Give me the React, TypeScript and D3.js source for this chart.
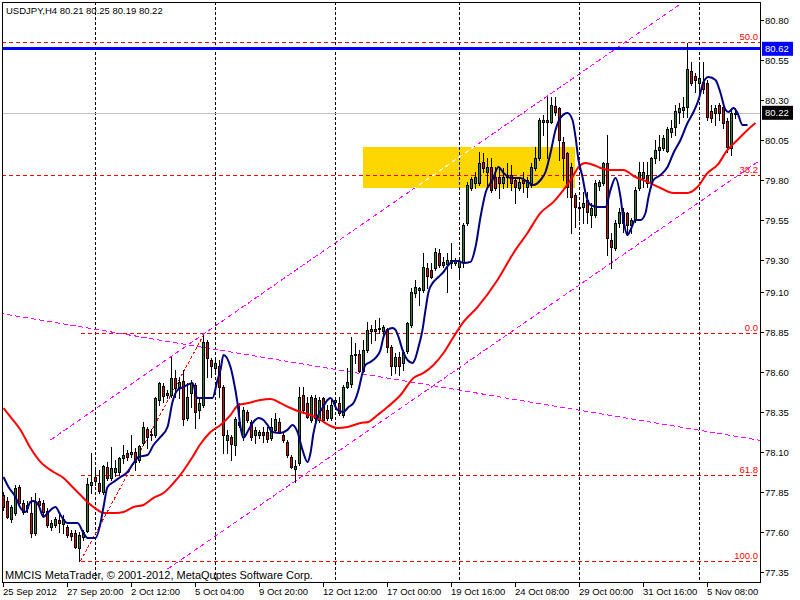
import React from 'react';
import * as d3 from 'd3';

const W = 800;
const H = 600;
const PL = 2, PR = 760, PT = 2, PB = 582;

// ---- Candles (USDJPY H4) ----
const opens = [
77.831,77.794,77.681,77.719,77.881,77.781,77.750,77.719,77.594,77.794,
77.781,77.731,77.631,77.644,77.675,77.650,77.631,77.594,77.594,77.500,
77.569,77.606,77.894,77.944,77.906,77.850,78.006,77.938,77.975,77.975,
78.063,78.094,78.088,78.100,78.050,78.156,78.244,78.206,78.206,78.425,
78.513,78.456,78.456,78.563,78.506,78.544,78.313,78.469,78.519,78.363,
78.394,78.788,78.675,78.625,78.638,78.506,78.175,78.194,78.144,78.288,
78.194,78.350,78.288,78.206,78.206,78.225,78.225,78.188,78.238,78.288,
78.206,78.163,78.069,77.994,78.031,78.456,78.406,78.300,78.438,78.300,
78.438,78.363,78.313,78.413,78.406,78.331,78.506,78.525,78.706,78.713,
78.606,78.738,78.856,78.869,78.869,78.856,78.869,78.756,78.638,78.694,
78.656,78.731,78.894,79.094,79.113,79.113,79.250,79.238,79.250,79.344,
79.269,79.275,79.281,79.281,79.256,79.288,79.531,79.750,79.781,79.781,
79.913,79.850,79.881,79.819,79.819,79.781,79.819,79.831,79.800,79.750,
79.800,79.756,79.769,79.875,79.938,80.163,80.163,80.163,80.263,80.250,
80.038,79.969,79.881,79.706,79.625,79.631,79.675,79.581,79.581,79.763,
79.781,79.906,79.425,79.375,79.531,79.600,79.594,79.519,79.550,79.750,
79.813,79.831,79.781,79.938,79.988,80.000,79.981,80.100,80.131,80.225,
80.238,80.256,80.481,80.450,80.406,80.413,80.406,80.231,80.219,80.269,
80.256,80.169,80.000,80.21
];
const highs = [
77.850,77.819,77.769,77.894,77.894,77.800,77.794,77.819,77.844,77.813,
77.800,77.750,77.675,77.694,77.706,77.706,77.644,77.613,77.613,77.600,
77.613,77.938,78.094,77.988,77.988,78.019,78.038,78.131,78.050,78.069,
78.144,78.113,78.206,78.125,78.144,78.288,78.256,78.244,78.444,78.538,
78.531,78.488,78.694,78.613,78.569,78.613,78.531,78.550,78.531,78.444,
78.831,78.800,78.688,78.675,78.675,78.519,78.238,78.206,78.319,78.406,
78.381,78.363,78.300,78.256,78.238,78.256,78.256,78.313,78.344,78.313,
78.225,78.175,78.081,78.050,78.506,78.506,78.444,78.456,78.456,78.444,
78.444,78.394,78.425,78.444,78.444,78.519,78.625,78.819,78.781,78.738,
78.800,78.913,78.894,78.925,78.938,78.894,78.875,78.769,78.719,78.725,
78.738,78.913,79.125,79.175,79.131,79.344,79.281,79.281,79.375,79.369,
79.319,79.344,79.406,79.313,79.313,79.531,79.788,79.819,79.850,79.975,
79.969,79.938,79.938,79.881,79.875,79.875,79.906,79.894,79.819,79.819,
79.850,79.819,79.906,80.006,80.188,80.206,80.319,80.319,80.319,80.256,
80.069,79.975,79.906,79.719,79.656,79.725,79.725,79.656,79.800,79.800,
79.913,80.081,79.469,79.550,79.625,79.625,79.600,79.563,79.756,79.913,
79.913,79.913,79.944,80.050,80.081,80.081,80.131,80.175,80.269,80.281,
80.319,80.656,80.538,80.469,80.519,80.538,80.425,80.269,80.269,80.281,
80.269,80.188,80.238,80.25
];
const lows = [
77.738,77.688,77.663,77.706,77.769,77.713,77.725,77.569,77.581,77.756,
77.706,77.631,77.613,77.631,77.600,77.594,77.569,77.550,77.500,77.419,
77.550,77.600,77.844,77.894,77.844,77.838,77.925,77.925,77.950,77.956,
78.031,78.050,78.069,77.988,78.038,78.144,78.125,78.175,78.194,78.394,
78.413,78.438,78.444,78.444,78.438,78.269,78.300,78.381,78.250,78.313,
78.381,78.569,78.569,78.600,78.444,78.094,78.094,78.050,78.081,78.256,
78.175,78.288,78.175,78.156,78.188,78.163,78.163,78.175,78.225,78.219,
78.163,78.069,78.000,77.913,78.019,78.344,78.313,78.288,78.288,78.288,
78.288,78.300,78.300,78.381,78.331,78.319,78.500,78.506,78.656,78.600,
78.600,78.725,78.781,78.800,78.844,78.831,78.725,78.581,78.594,78.581,
78.613,78.719,78.881,79.069,79.019,79.100,79.125,79.188,79.238,79.256,
79.256,79.100,79.250,79.269,79.188,79.256,79.519,79.738,79.750,79.769,
79.850,79.750,79.725,79.738,79.688,79.750,79.756,79.738,79.656,79.738,
79.725,79.694,79.756,79.863,79.925,80.081,79.938,80.156,80.206,79.925,
79.800,79.694,79.469,79.506,79.550,79.531,79.531,79.506,79.569,79.738,
79.769,79.331,79.250,79.363,79.506,79.475,79.456,79.469,79.538,79.738,
79.756,79.756,79.756,79.906,79.925,79.988,79.975,80.069,80.081,80.156,
80.194,80.194,80.394,80.350,80.344,80.344,80.175,80.163,80.144,80.175,
80.125,79.975,79.956,80.19
];
const closes = [
77.756,77.694,77.756,77.875,77.781,77.725,77.769,77.594,77.788,77.769,
77.725,77.644,77.656,77.681,77.656,77.681,77.581,77.575,77.506,77.581,
77.600,77.900,77.913,77.919,77.856,78.013,77.938,78.000,78.000,78.063,
78.081,78.069,78.100,78.038,78.138,78.256,78.194,78.213,78.438,78.531,
78.450,78.469,78.563,78.500,78.538,78.306,78.444,78.531,78.350,78.406,
78.788,78.688,78.638,78.656,78.506,78.206,78.206,78.150,78.306,78.269,
78.363,78.300,78.194,78.238,78.225,78.206,78.181,78.256,78.306,78.225,
78.175,78.081,78.006,78.013,78.444,78.363,78.319,78.444,78.313,78.425,
78.300,78.313,78.394,78.425,78.344,78.506,78.538,78.706,78.713,78.606,
78.738,78.863,78.869,78.856,78.875,78.881,78.756,78.638,78.694,78.638,
78.725,78.906,79.100,79.131,79.125,79.256,79.200,79.194,79.350,79.269,
79.288,79.300,79.300,79.300,79.294,79.519,79.769,79.806,79.819,79.906,
79.875,79.881,79.738,79.750,79.781,79.819,79.831,79.781,79.756,79.788,
79.781,79.800,79.881,79.938,80.175,80.175,80.175,80.269,80.225,80.050,
79.938,79.756,79.694,79.631,79.631,79.656,79.600,79.625,79.781,79.788,
79.906,79.438,79.381,79.531,79.600,79.531,79.519,79.550,79.738,79.850,
79.850,79.781,79.938,79.988,80.006,80.063,80.119,80.125,80.231,80.250,
80.256,80.494,80.406,80.425,80.438,80.369,80.194,80.188,80.250,80.219,
80.156,80.006,80.219,80.22
];

// ---- Moving averages (bar position, price) ----
const blueMaBars = [0,1.25,3,4.25,5.5,6.75,7.5,8.75,10,11.25,13,14.25,16,18.5,20,21,23,24.25,25,26,27.5,29.25,31,32.5,33.75,36,37.5,39.25,41,42.25,43.5,45,47.25,48.5,50,52.25,53.5,54.25,55,56.75,57.5,58.5,59.25,60,61.25,62.5,63.75,65,66,67.25,69.25,71,72.25,73.5,74.75,76,76.75,77.5,78.5,79.75,81,81.75,83.5,85,86.25,87.5,88.75,89.75,90.5,91.75,93,94.25,95,96,97.25,98,98.75,99.75,101,102.25,103,103.75,104.75,105.5,106.25,107.5,108.75,110,111.25,112.5,113.75,115,116.75,118,119.25,120.5,122.25,123.75,125,126.75,129.25,131,132.5,134.25,135.5,136.75,138,139.25,141,142.25,143,143.75,144.75,145.5,146.75,148.5,150.5,151.75,153,154.25,155,156,156.75,158,159.25,160.5,161.25,162.5,164.25,166,167.5,169.25,171,172.5,173.75,175,176.25,178,179.25,180.5,181.25,182.5,183.5,184.75,186];
const blueMaPrices = [77.944,77.881,77.819,77.750,77.725,77.788,77.794,77.769,77.694,77.725,77.756,77.706,77.656,77.656,77.594,77.563,77.563,77.656,77.756,77.881,77.913,77.944,77.975,78.031,78.069,78.081,78.144,78.194,78.256,78.413,78.488,78.506,78.531,78.438,78.438,78.438,78.550,78.613,78.706,78.631,78.550,78.406,78.256,78.188,78.238,78.288,78.313,78.300,78.269,78.225,78.219,78.238,78.269,78.225,78.113,78.038,78.094,78.219,78.319,78.375,78.425,78.438,78.363,78.350,78.381,78.406,78.488,78.594,78.644,78.663,78.688,78.738,78.819,78.863,78.875,78.863,78.819,78.738,78.675,78.656,78.688,78.756,78.863,78.988,79.100,79.163,79.194,79.225,79.269,79.294,79.294,79.281,79.288,79.381,79.569,79.719,79.800,79.881,79.844,79.813,79.813,79.788,79.769,79.800,79.850,79.969,80.113,80.188,80.219,80.175,80.069,79.925,79.819,79.719,79.644,79.631,79.631,79.738,79.813,79.694,79.550,79.456,79.488,79.550,79.550,79.594,79.694,79.800,79.831,79.881,79.969,80.050,80.156,80.225,80.300,80.413,80.444,80.425,80.344,80.238,80.225,80.250,80.219,80.144,80.144];
const redMaBars = [0,1.75,4.25,6.75,9.25,12.5,15,17.25,19.25,21.25,23.5,25,28,30,32.5,35,37.5,40,42.5,44.75,47.25,49.25,51.75,54.25,56.75,58.75,61.25,64.25,66.75,69.25,71.75,74.25,76.75,79.25,81.25,83.5,86,89.25,91.25,93.5,96,99.25,102.5,105,107.5,110,112.5,115,118.5,123.5,127.5,131,134.25,137.5,140,142.25,143.75,145.5,147.5,149.25,151.75,155,157.5,161,164.25,167.5,171,173.5,176,178.5,181,183.5,186,188];
const redMaPrices = [78.375,78.319,78.238,78.125,78.038,77.975,77.938,77.881,77.831,77.781,77.738,77.719,77.719,77.725,77.756,77.769,77.813,77.844,77.906,77.975,78.069,78.150,78.225,78.269,78.331,78.394,78.406,78.425,78.431,78.406,78.375,78.350,78.331,78.300,78.269,78.250,78.256,78.281,78.288,78.331,78.381,78.456,78.563,78.594,78.644,78.719,78.819,78.913,79.006,79.175,79.344,79.469,79.594,79.663,79.738,79.819,79.881,79.906,79.894,79.875,79.863,79.863,79.825,79.788,79.750,79.719,79.719,79.756,79.844,79.894,79.988,80.050,80.113,80.156];

// ---- Axis ----
const yTickValues = [80.80, 80.55, 80.30, 80.05, 79.80, 79.55, 79.30, 79.10, 78.85, 78.60, 78.35, 78.10, 77.85, 77.60, 77.35];
const xLabelBars = [0, 16, 32, 48, 64, 80, 96, 112, 128, 144, 160, 176];
const xLabelTexts = ["25 Sep 2012", "27 Sep 20:00", "2 Oct 12:00", "5 Oct 04:00", "9 Oct 20:00", "12 Oct 12:00", "17 Oct 00:00", "19 Oct 16:00", "24 Oct 08:00", "29 Oct 00:00", "31 Oct 16:00", "5 Nov 08:00"];
const gridBars = [23, 53, 83, 114, 144, 174];

// ---- Objects ----
const fibLabels = ["50.0", "38.2", "0.0", "61.8", "100.0"];
const fibPrices = [80.6625, 79.831, 78.844, 77.958, 77.419];
const fibStartBars = [-1, -1, 19.25, 19.25, 19.25];
const fibTrendBars = [19.25, 50];
const fibTrendPrices = [77.419, 78.831];
const upperChanBars = [11.75, 176];
const upperChanPrices = [78.175, 81.017];
const lowerChanBars = [41, 189.5];
const lowerChanPrices = [77.368, 79.93];
const descBars = [-1, 189.5];
const descPrices = [78.967, 78.171];
const zoneBars = [89.875, 142.875];
const zonePrices = [80.006, 79.75];
const resistancePrice = 80.62;
const lastPrice = 80.22;
const titleText = "USDJPY,H4  80.21 80.25 80.19 80.22";
const footerText = "MMCIS MetaTrader, \u00A9 2001-2012, MetaQuptes Software Corp.";

const FONT = "'Liberation Sans', Arial, sans-serif";
const GREEN = "#1f8a1f";
const RED = "#e60000";

export default function App() {
  const x = d3.scaleLinear().domain([0, 1]).range([3.5, 7.5]);
  const y = d3.scaleLinear().domain([77.35, 80.80]).range([572, 20]);
  const crisp = (v: number) => Math.round(v) + 0.5;

  const blueLine = d3.line<number>()
    .x((_, i) => x(blueMaBars[i]))
    .y((d) => y(d))
    .curve(d3.curveMonotoneX)(blueMaPrices) || '';
  const redLine = d3.line<number>()
    .x((_, i) => x(redMaBars[i]))
    .y((d) => y(d))
    .curve(d3.curveMonotoneX)(redMaPrices) || '';

  const seg = (bars: number[], prices: number[]) => ({
    x1: x(bars[0]), y1: y(prices[0]), x2: x(bars[1]), y2: y(prices[1]),
  });

  const zx0 = x(zoneBars[0]), zx1 = x(zoneBars[1]);
  const zy0 = y(zonePrices[0]), zy1 = y(zonePrices[1]);

  return (
    <svg width={W} height={H} style={{ position: 'absolute', left: 0, top: 0, display: 'block' }}
      fontFamily={FONT}>
      <defs>
        <clipPath id="plot">
          <rect x={PL + 1} y={PT + 1} width={PR - PL - 1} height={PB - PT - 1} />
        </clipPath>
        <clipPath id="zone">
          <rect x={zx0} y={zy0} width={zx1 - zx0} height={zy1 - zy0} />
        </clipPath>
      </defs>
      <rect x={0} y={0} width={W} height={H} fill="#fff" />

      <g clipPath="url(#plot)">
        {/* yellow zone */}
        <rect x={zx0} y={zy0} width={zx1 - zx0} height={zy1 - zy0} fill="#ffd700" shapeRendering="crispEdges" />

        {/* vertical grid */}
        {gridBars.map((b, i) => (
          <line key={'g' + i} x1={x(b)} x2={x(b)} y1={PT} y2={PB} stroke="#000" strokeDasharray="3,2" shapeRendering="crispEdges" />
        ))}
        <g clipPath="url(#zone)">
          {gridBars.map((b, i) => (
            <line key={'gz' + i} x1={x(b)} x2={x(b)} y1={PT} y2={PB} stroke="#0000d0" strokeDasharray="3,2" shapeRendering="crispEdges" />
          ))}
        </g>

        {/* last price line */}
        <line x1={PL} x2={PR} y1={crisp(y(lastPrice))} y2={crisp(y(lastPrice))} stroke="#c0c0c0" shapeRendering="crispEdges" />

        {/* fibo levels */}
        {fibPrices.map((p, i) => (
          <g key={'f' + i}>
            <line x1={Math.max(PL, x(fibStartBars[i]))} x2={PR} y1={crisp(y(p))} y2={crisp(y(p))}
              stroke="#ff0000" strokeDasharray="4,3" shapeRendering="crispEdges" />
            <text x={758} y={crisp(y(p)) - 2.5} textAnchor="end" fontSize={9.5} fill="#ff0000">{fibLabels[i]}</text>
          </g>
        ))}
        <line {...seg(fibTrendBars, fibTrendPrices)} stroke="#ff0000" strokeDasharray="3,2" shapeRendering="crispEdges" />

        {/* channel lines */}
        <line {...seg(upperChanBars, upperChanPrices)} stroke="#ff00ff" strokeDasharray="5,3" shapeRendering="crispEdges" />
        <g clipPath="url(#zone)">
          <line {...seg(upperChanBars, upperChanPrices)} stroke="#ffffff" strokeDasharray="5,3" shapeRendering="crispEdges" />
        </g>
        <line {...seg(lowerChanBars, lowerChanPrices)} stroke="#ff00ff" strokeDasharray="5,3" shapeRendering="crispEdges" />
        <line {...seg(descBars, descPrices)} stroke="#ff00ff" strokeDasharray="5,3" shapeRendering="crispEdges" />

        {/* resistance */}
        <line x1={PL} x2={PR} y1={y(resistancePrice)} y2={y(resistancePrice)} stroke="#0000ff" strokeWidth={3} shapeRendering="crispEdges" />

        {/* candles */}
        {opens.map((o, i) => {
          const c = closes[i];
          const cx = x(i);
          const up = c >= o;
          const top = crisp(y(Math.max(o, c)));
          const bot = crisp(y(Math.min(o, c)));
          return (
            <g key={'c' + i}>
              <line x1={cx} x2={cx} y1={Math.round(y(highs[i]))} y2={Math.round(y(lows[i])) + 1} stroke="#000" />
              <rect x={cx - 1} y={top} width={2} height={Math.max(bot - top, 0)}
                fill={up ? GREEN : RED} stroke="#000" />
            </g>
          );
        })}

        {/* moving averages */}
        <path d={redLine} fill="none" stroke="#ff0000" strokeWidth={2} />
        <path d={blueLine} fill="none" stroke="#000080" strokeWidth={2} />
      </g>

      {/* frame */}
      <g shapeRendering="crispEdges">
        <line x1={PL + 0.5} x2={PL + 0.5} y1={PT} y2={PB} stroke="#000" />
        <line x1={PL} x2={PR} y1={PT + 0.5} y2={PT + 0.5} stroke="#000" />
        <line x1={PR + 0.5} x2={PR + 0.5} y1={PT} y2={PB + 1} stroke="#000" />
        <line x1={PL} x2={PR + 1} y1={PB + 0.5} y2={PB + 0.5} stroke="#000" />
      </g>

      {/* y axis */}
      {yTickValues.map((v, i) => (
        <g key={'y' + i}>
          <line x1={PR} x2={PR + 4} y1={crisp(y(v))} y2={crisp(y(v))} stroke="#000" shapeRendering="crispEdges" />
          <text x={765} y={y(v) + 3.5} fontSize={9.5} fill="#000">{v.toFixed(2)}</text>
        </g>
      ))}
      <rect x={762} y={y(resistancePrice) - 7} width={31} height={14} fill="#0000ff" />
      <text x={765} y={y(resistancePrice) + 3.5} fontSize={9.5} fill="#fff">{resistancePrice.toFixed(2)}</text>
      <rect x={762} y={y(lastPrice) - 7} width={31} height={14} fill="#000" />
      <text x={765} y={y(lastPrice) + 3.5} fontSize={9.5} fill="#fff">{lastPrice.toFixed(2)}</text>

      {/* x axis */}
      {xLabelBars.map((b, i) => (
        <g key={'x' + i}>
          <line x1={x(b)} x2={x(b)} y1={PB} y2={PB + 5} stroke="#000" shapeRendering="crispEdges" />
          <text x={x(b) - 0.5} y={595} fontSize={9.5} fill="#000">{xLabelTexts[i]}</text>
        </g>
      ))}

      <text x={6} y={14} fontSize={9.5} fill="#000">{titleText}</text>
      <text x={5} y={579} fontSize={11} fill="#000">{footerText}</text>
    </svg>
  );
}
